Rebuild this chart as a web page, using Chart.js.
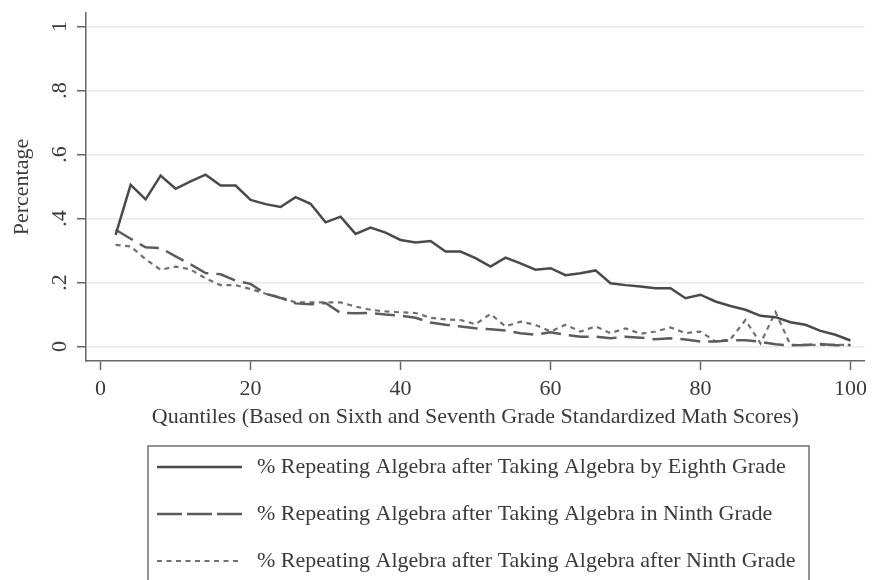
<!DOCTYPE html>
<html lang="en">
<head>
    <meta charset="UTF-8">
    <title>Repeating Algebra by Quantile</title>
    <script src="https://cdn.jsdelivr.net/npm/chart.js"></script>
    <style>
        body { margin: 0; padding: 0; background: #fff; }
        #chartBox { width: 873px; height: 580px; }
    </style>
</head>
<body>
    <div id="chartBox"><canvas id="algebraChart" width="873" height="580"></canvas></div>
    <script>
    // quantiles on the x axis
    const quantiles = [2, 4, 6, 8, 10, 12, 14, 16, 18, 20, 22, 24, 26, 28, 30, 32, 34, 36, 38, 40,
        42, 44, 46, 48, 50, 52, 54, 56, 58, 60, 62, 64, 66, 68, 70, 72, 74, 76, 78, 80,
        82, 84, 86, 88, 90, 92, 94, 96, 98, 100];

    const byEighth = [0.349, 0.505, 0.460, 0.534, 0.493, 0.516, 0.537, 0.503, 0.503, 0.458,
        0.445, 0.436, 0.467, 0.446, 0.388, 0.406, 0.352, 0.372, 0.356, 0.333,
        0.325, 0.330, 0.297, 0.297, 0.276, 0.250, 0.278, 0.260, 0.240, 0.245,
        0.223, 0.229, 0.238, 0.198, 0.192, 0.188, 0.182, 0.182, 0.151, 0.162,
        0.141, 0.127, 0.115, 0.096, 0.092, 0.076, 0.068, 0.049, 0.037, 0.019];

    const inNinth = [0.365, 0.337, 0.310, 0.308, 0.282, 0.257, 0.230, 0.226, 0.206, 0.196,
        0.165, 0.152, 0.135, 0.132, 0.136, 0.105, 0.104, 0.105, 0.100, 0.097,
        0.090, 0.075, 0.068, 0.063, 0.057, 0.054, 0.050, 0.042, 0.037, 0.045,
        0.037, 0.031, 0.031, 0.026, 0.031, 0.028, 0.023, 0.026, 0.022, 0.016,
        0.016, 0.020, 0.020, 0.015, 0.007, 0.004, 0.005, 0.008, 0.004, 0.005];

    const afterNinth = [0.318, 0.313, 0.273, 0.240, 0.250, 0.241, 0.213, 0.192, 0.192, 0.180,
        0.165, 0.154, 0.138, 0.138, 0.138, 0.138, 0.125, 0.115, 0.110, 0.107,
        0.105, 0.090, 0.085, 0.083, 0.070, 0.102, 0.063, 0.078, 0.068, 0.047,
        0.068, 0.047, 0.063, 0.042, 0.057, 0.040, 0.047, 0.060, 0.042, 0.047,
        0.016, 0.023, 0.083, 0.010, 0.108, 0.005, 0.006, 0.005, 0.006, 0.005];

    const xTicks = [0, 20, 40, 60, 80, 100];
    const yTicks = [0, 0.2, 0.4, 0.6, 0.8, 1];
    const yTickLabels = ['0', '.2', '.4', '.6', '.8', '1'];

    const seriesNames = [
        '% Repeating Algebra after Taking Algebra by Eighth Grade',
        '% Repeating Algebra after Taking Algebra in Ninth Grade',
        '% Repeating Algebra after Taking Algebra after Ninth Grade'
    ];
    const xTitle = 'Quantiles (Based on Sixth and Seventh Grade Standardized Math Scores)';
    const yTitle = 'Percentage';

    const serif = "'Liberation Serif', 'DejaVu Serif', serif";
    const textColor = '#3a3a3a';
    const axisColor = '#666';
    const fontSize = 22;

    const lineStyles = [
        { color: '#4a4a4a', width: 2.5, dash: [], key: [] },
        { color: '#5c5c5c', width: 2.5, dash: [20, 8], key: [25, 5] },
        { color: '#707070', width: 2.2, dash: [5, 4.5], key: [5, 4.5] }
    ];

    function toPoints(vals) {
        return quantiles.map((q, i) => ({ x: q, y: vals[i] }));
    }

    // y tick labels (rotated), axis titles and the boxed legend underneath
    const extras = {
        id: 'extras',
        afterDraw(chart) {
            const ctx = chart.ctx;
            const yScale = chart.scales.y;
            const area = chart.chartArea;
            ctx.save();
            ctx.fillStyle = textColor;
            ctx.font = fontSize + 'px ' + serif;
            ctx.textAlign = 'center';
            ctx.textBaseline = 'middle';
            yTicks.forEach((v, i) => {
                ctx.save();
                ctx.translate(60, yScale.getPixelForValue(v));
                ctx.rotate(-Math.PI / 2);
                ctx.fillText(yTickLabels[i], 0, 0);
                ctx.restore();
            });
            ctx.save();
            ctx.translate(22, (area.top + area.bottom) / 2);
            ctx.rotate(-Math.PI / 2);
            ctx.fillText(yTitle, 0, 0);
            ctx.restore();

            ctx.fillText(xTitle, (area.left + area.right) / 2, 417);

            // legend
            ctx.strokeStyle = '#707070';
            ctx.lineWidth = 1.5;
            ctx.strokeRect(148, 446, 661, 160);
            ctx.textAlign = 'left';
            const rows = [467, 514, 561];
            rows.forEach((ry, i) => {
                const st = lineStyles[i];
                ctx.beginPath();
                ctx.setLineDash(st.key);
                ctx.strokeStyle = st.color;
                ctx.lineWidth = st.width;
                ctx.moveTo(157, ry);
                ctx.lineTo(242, ry);
                ctx.stroke();
                ctx.setLineDash([]);
                ctx.fillText(seriesNames[i], 257, ry);
            });
            ctx.restore();
        }
    };

    const datasets = [byEighth, inNinth, afterNinth].map((vals, i) => ({
        label: seriesNames[i],
        data: toPoints(vals),
        borderColor: lineStyles[i].color,
        borderWidth: lineStyles[i].width,
        borderDash: lineStyles[i].dash,
        pointRadius: 0,
        tension: 0,
        fill: false
    }));

    new Chart(document.getElementById('algebraChart'), {
        type: 'line',
        data: { datasets: datasets },
        options: {
            responsive: false,
            animation: false,
            layout: { padding: { left: 0, top: 13, right: 3, bottom: 0 } },
            plugins: { legend: { display: false }, tooltip: { enabled: false } },
            scales: {
                x: {
                    type: 'linear',
                    min: -1.95,
                    max: 101.9,
                    afterBuildTicks: s => { s.ticks = xTicks.map(v => ({ value: v })); },
                    afterFit: s => { s.height = 219; },
                    grid: { drawOnChartArea: false, tickColor: axisColor, tickLength: 9, tickWidth: 1.5 },
                    border: { color: axisColor, width: 1.5 },
                    ticks: { color: textColor, font: { family: serif, size: fontSize }, padding: 6, maxRotation: 0 }
                },
                y: {
                    min: -0.045,
                    max: 1.042,
                    afterBuildTicks: s => { s.ticks = yTicks.map(v => ({ value: v })); },
                    afterFit: s => { s.width = 86; },
                    grid: { color: '#e8e8e8', lineWidth: 1.5, tickColor: axisColor, tickLength: 9, tickWidth: 1.5 },
                    border: { color: axisColor, width: 1.5 },
                    ticks: { display: false }
                }
            }
        },
        plugins: [extras]
    });
    </script>
</body>
</html>
